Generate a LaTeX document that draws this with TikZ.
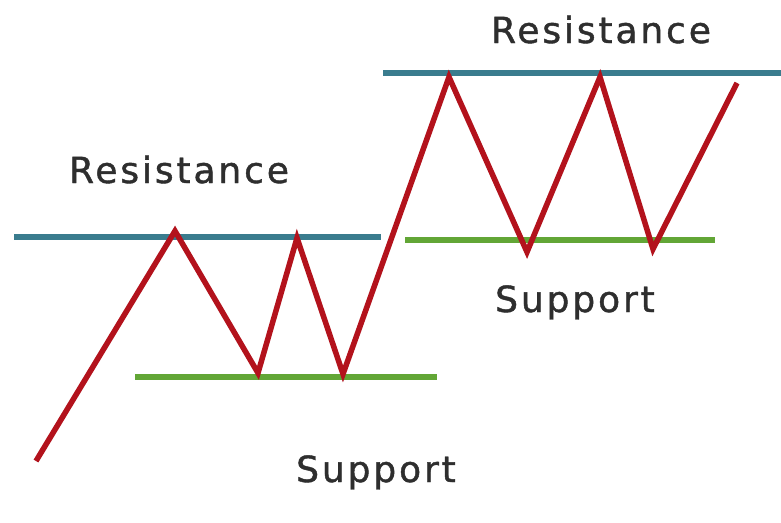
\documentclass[tikz,border=0pt]{standalone}
\usepackage{fontspec}
\setmainfont{DejaVu Sans}[LetterSpace=8,FakeBold=1.2]
\definecolor{resblue}{HTML}{3A7C8E}
\definecolor{supgreen}{HTML}{62A636}
\definecolor{pricered}{HTML}{B3121C}
\definecolor{labelgray}{HTML}{2E2E2E}
\begin{document}
\begin{tikzpicture}[x=1pt,y=-1pt,
  resline/.style={draw=resblue,line width=6pt},
  supline/.style={draw=supgreen,line width=5.5pt},
  priceline/.style={draw=pricered,line width=5.5pt,line join=miter},
  shadowline/.style={draw=black!15,line width=5pt,opacity=0.6},
  lbl/.style={text=labelgray,font=\fontsize{36}{40}\selectfont,inner sep=0pt,anchor=base}]
\useasboundingbox[fill=white] (0,0) rectangle (781,522);
% coordinates
\coordinate (r1a) at (14,237);  \coordinate (r1b) at (381,237);
\coordinate (r2a) at (383,73);  \coordinate (r2b) at (781,73);
\coordinate (s1a) at (135,377); \coordinate (s1b) at (437,377);
\coordinate (s2a) at (405,240); \coordinate (s2b) at (715,240);
\coordinate (p0) at (36,461);
\coordinate (p1) at (175,231);
\coordinate (p2) at (258,373);
\coordinate (p3) at (297,238);
\coordinate (p4) at (343,374);
\coordinate (p5) at (449,77);
\coordinate (p6) at (527,252);
\coordinate (p7) at (600,77);
\coordinate (p8) at (653,249);
\coordinate (p9) at (737,83);
% shadows
\begin{scope}[shift={(5,8)}]
\draw[shadowline] (r1a) -- (r1b);
\draw[shadowline] (r2a) -- (r2b);
\draw[shadowline] (s1a) -- (s1b);
\draw[shadowline] (s2a) -- (s2b);
\draw[shadowline] (p0) -- (p1) -- (p2) -- (p3) -- (p4) -- (p5) -- (p6) -- (p7) -- (p8) -- (p9);
\end{scope}
% levels
\draw[resline] (r1a) -- (r1b);
\draw[resline] (r2a) -- (r2b);
\draw[supline] (s1a) -- (s1b);
\draw[supline] (s2a) -- (s2b);
% price
\draw[priceline] (p0) -- (p1) -- (p2) -- (p3) -- (p4) -- (p5) -- (p6) -- (p7) -- (p8) -- (p9);
% labels
\node[lbl] (res1) at (179,183) {Resistance};
\node[lbl] (res2) at (601,43) {Resistance};
\node[lbl] (sup1) at (575,312) {Support};
\node[lbl] (sup2) at (376,482) {Support};
\end{tikzpicture}
\end{document}
